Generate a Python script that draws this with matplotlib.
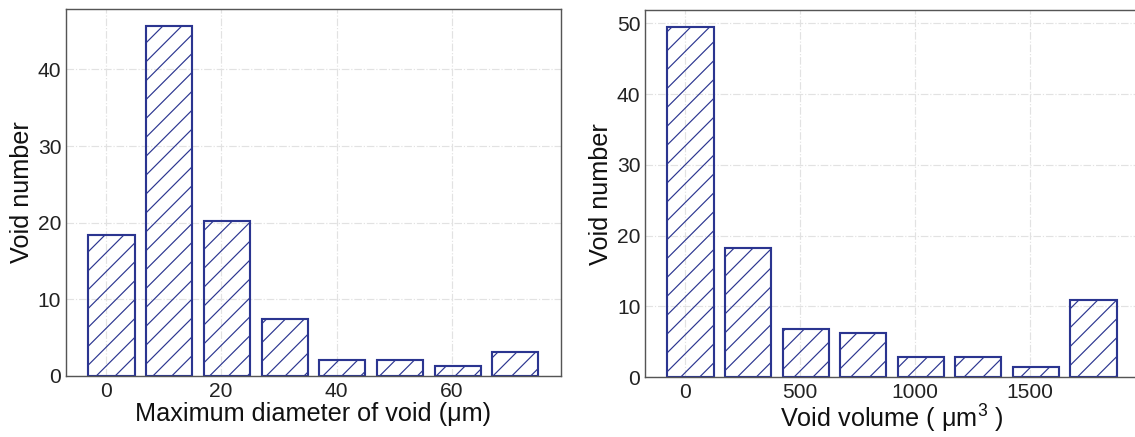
import numpy as np
import matplotlib
matplotlib.use('Agg')
import matplotlib.pyplot as plt

plt.rcParams['font.family'] = ['Liberation Sans', 'DejaVu Sans']
plt.rcParams['mathtext.default'] = 'regular'
plt.rcParams['hatch.linewidth'] = 0.5

DPI = 170

# left panel: maximum diameter of void
diam_pos = [1, 11, 21, 31, 41, 51, 61, 71]
diam_count = [18.4, 45.6, 20.2, 7.4, 2.1, 2.1, 1.3, 3.1]
diam_ticks = [0, 20, 40, 60]

# right panel: void volume
vol_pos = [25, 275, 525, 775, 1025, 1275, 1525, 1775]
vol_count = [49.4, 18.3, 6.8, 6.3, 2.9, 2.9, 1.4, 10.85]
vol_ticks = [0, 500, 1000, 1500]

navy = '#2b3590'


def hatch_bars(ax, pos, counts, width, ticks, xlabel, xpad):
    ax.bar(pos, counts, width=width, facecolor='none', edgecolor=navy,
           linewidth=0.9, hatch='///', zorder=2)
    ax.set_xticks(ticks)
    ax.grid(True, color='#e2e2e2', linestyle='-.', linewidth=0.5, zorder=0)
    ax.set_axisbelow(True)
    ax.tick_params(length=0, labelsize=8.9, colors='#222222')
    ax.tick_params(axis='x', pad=2.5)
    ax.tick_params(axis='y', pad=2)
    for s in ax.spines.values():
        s.set_color('#555555')
        s.set_linewidth(0.6)
    ax.set_xlabel(xlabel, fontsize=10.7, labelpad=xpad, color='#111111')
    ax.set_ylabel('Void number', fontsize=10.7, labelpad=1.5, color='#111111')


fig = plt.figure(figsize=(1135 / DPI, 437 / DPI), dpi=DPI)
ax1 = fig.add_axes([0.0581, 0.1396, 0.4361, 0.8398])
ax2 = fig.add_axes([0.5683, 0.1366, 0.4352, 0.8405])

hatch_bars(ax1, diam_pos, diam_count, 8, diam_ticks,
           'Maximum diameter of void (μm)', 0.5)
hatch_bars(ax2, vol_pos, vol_count, 200, vol_ticks,
           'Void volume ( μm$^3$ )', 0.3)

fig.savefig('out.png', dpi=DPI)
